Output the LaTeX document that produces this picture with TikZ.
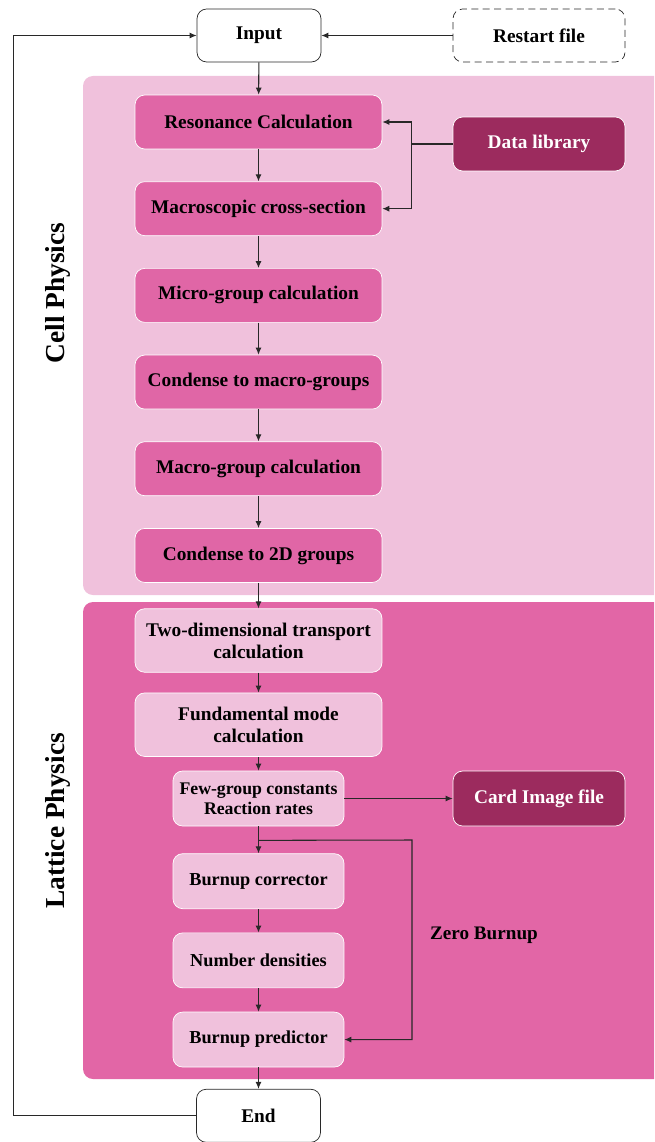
\documentclass[tikz,border=0pt]{standalone}
\usepackage{fontspec}
\setmainfont{Liberation Serif}
\usepackage{xcolor}
\usepackage{tikz}
\usetikzlibrary{positioning,arrows.meta}
\definecolor{cpband}{RGB}{240,193,220}
\definecolor{lpband}{RGB}{226,102,166}
\definecolor{cpbox}{RGB}{224,102,166}
\definecolor{dkbox}{RGB}{156,43,94}
\definecolor{lngrey}{RGB}{40,40,40}
\tikzset{
  term/.style={draw=lngrey, fill=white, rounded corners=5.5pt, align=center,
               minimum width=2.48cm, minimum height=1.06cm, inner sep=2pt,
               font=\bfseries\fontsize{11}{12.5}\selectfont},
  cellbox/.style={draw=white, fill=cpbox, rounded corners=5.5pt, align=center,
                  minimum width=4.94cm, minimum height=1.08cm, inner sep=2pt,
                  font=\bfseries\fontsize{11}{12.5}\selectfont},
  latbox/.style={cellbox, fill=cpband, minimum height=1.27cm},
  smallbox/.style={latbox, minimum width=3.42cm, minimum height=1.1cm,
                   font=\bfseries\fontsize{10.4}{12}\selectfont},
  fewbox/.style={smallbox, font=\bfseries\fontsize{10.1}{11.6}\selectfont},
  filebox/.style={cellbox, fill=dkbox, text=white, minimum width=3.44cm},
  flow/.style={-{Latex[length=1.4mm,width=1.2mm]}, line width=0.6pt, color=lngrey},
  link/.style={line width=0.6pt, color=lngrey},
  bandlbl/.style={rotate=90, font=\bfseries\fontsize{15.6}{18}\selectfont},
  zlbl/.style={font=\bfseries\fontsize{10.9}{12.5}\selectfont},
}
\begin{document}
\begin{tikzpicture}[x=0.02cm, y=-0.02cm, node distance=0.64cm]
\useasboundingbox (0,0) rectangle (654,1142);
\clip (0,0) rectangle (654,1142);
% bands
\fill[cpband, rounded corners=0.2cm] (83,76) rectangle (690,595);
\fill[lpband, rounded corners=0.2cm] (83,602) rectangle (690,1079);
\node[bandlbl] (celllbl) at (58,293) {Cell Physics};
\node[bandlbl] (latlbl) at (58,821) {Lattice Physics};

\node[term] (input) at (259,35.5) {Input};
\node[term, dash pattern=on 4pt off 2.5pt, minimum width=3.44cm] (restart) at (539,35.5) {Restart file};

% cell physics
\node[cellbox] (res) at (258.5,122) {Resonance Calculation};
\node[cellbox, below=of res] (macro) {Macroscopic cross-section};
\node[cellbox, below=of macro] (micro) {Micro-group calculation};
\node[cellbox, below=of micro] (condm) {Condense to macro-groups};
\node[cellbox, below=of condm] (macg) {Macro-group calculation};
\node[cellbox, below=of macg] (cond2) {Condense to 2D groups};
\node[filebox] (datlib) at (539,144) {Data library};

% lattice physics
\node[latbox] (twod) at (258.5,640.5) {Two-dimensional transport\\calculation};
\node[latbox, below=0.4cm of twod] (fund) {Fundamental mode\\calculation};
\node[fewbox] (few) at (258.5,798.5) {Few-group constants\\Reaction rates};
\node[smallbox, below=0.54cm of few] (corr) {Burnup corrector};
\node[smallbox, below=0.47cm of corr] (dens) {Number densities};
\node[smallbox, below=0.47cm of dens] (pred) {Burnup predictor};
\node[filebox, minimum height=1.1cm] (card) at (539,798.5) {Card Image file};
\node[zlbl] (zero) at (484,935) {Zero Burnup};

\node[term, below=0.43cm of pred] (endn) {End};

\draw[flow] (restart) -- (input);
\draw[flow] (input) -- (res);
\draw[flow] (res) -- (macro);
\draw[flow] (macro) -- (micro);
\draw[flow] (micro) -- (condm);
\draw[flow] (condm) -- (macg);
\draw[flow] (macg) -- (cond2);
\draw[flow] (cond2) -- (twod);
\draw[flow] (twod) -- (fund);
\draw[flow] (fund) -- (few);
\draw[flow] (few) -- (corr);
\draw[flow] (corr) -- (dens);
\draw[flow] (dens) -- (pred);
\draw[flow] (pred) -- (endn);
\draw[flow] (few) -- (card);

\coordinate[left=0.82cm of datlib.west] (datsplit);
\draw[link] (datlib.west) -- (datsplit);
\draw[flow] (datsplit) |- (res.east);
\draw[flow] (datsplit) |- (macro.east);

\coordinate[below=0.28cm of few.south] (split);
\coordinate (loopx) at (412,840);
\draw[flow] (split) -- (loopx) |- (pred.east);

\draw[flow] (endn.west) -- ++(-183,0) |- (input.west);
\end{tikzpicture}
\end{document}
